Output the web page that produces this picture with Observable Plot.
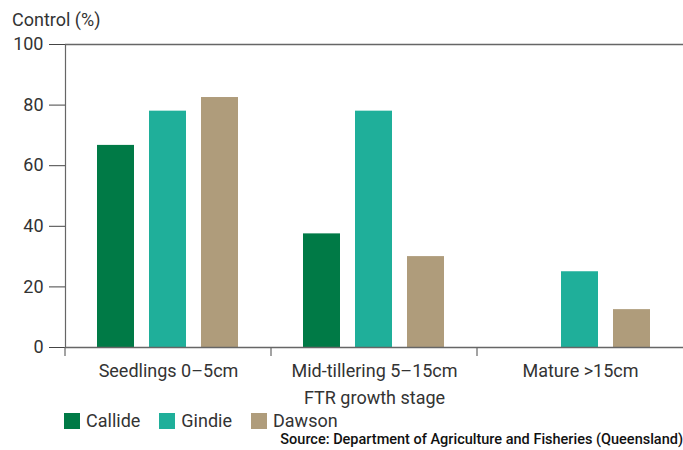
<!DOCTYPE html>
<html>
<head>
<meta charset="utf-8">
<script src="https://cdn.jsdelivr.net/npm/d3@7"></script>
<script src="https://cdn.jsdelivr.net/npm/@observablehq/plot@0.6"></script>
<style>
  html, body { margin: 0; padding: 0; background: #fff; }
  #wrap { position: relative; width: 683px; height: 450px; font-family: Roboto, "Open Sans", sans-serif; color: #333; }
  #ylabel { position: absolute; left: 12px; top: 9px; font-size: 18px; line-height: 22px; }
  #legend { position: absolute; left: 64px; top: 410px; display: flex; align-items: center; font-size: 18px; line-height: 22px; }
  #legend .item { display: flex; align-items: center; margin-right: 19px; }
  #legend .sw { width: 16px; height: 16px; margin-right: 6px; }
  #source { position: absolute; right: 0; top: 431px; font-size: 14.5px; line-height: 18px; font-weight: 500; color: #111; }
  #chart { position: absolute; left: 0; top: 0; }
</style>
</head>
<body>
<div id="wrap">
  <div id="chart"></div>
  <div id="ylabel">Control (%)</div>
  <div id="legend"></div>
  <div id="source">Source: Department of Agriculture and Fisheries (Queensland)</div>
</div>
<script>
const categories = ["Seedlings 0–5cm", "Mid-tillering 5–15cm", "Mature >15cm"];
const series = ["Callide", "Gindie", "Dawson"];
const callide = [66.7, 37.5, 0];
const gindie = [78, 78, 25];
const dawson = [82.5, 30, 12.5];
const colors = ["#007a46", "#1faf9a", "#af9c7b"];
const yTicks = [0, 20, 40, 60, 80, 100];
const xTitle = "FTR growth stage";

const seriesValues = [callide, gindie, dawson];
const data = [];
categories.forEach((c, i) => {
  series.forEach((s, j) => {
    data.push({stage: c, variety: s, value: seriesValues[j][i]});
  });
});

const chart = Plot.plot({
  width: 683,
  height: 410,
  marginTop: 44,
  marginBottom: 63,
  marginLeft: 65,
  marginRight: 0,
  style: {fontFamily: "Roboto, sans-serif", fontSize: "18px", color: "#333", background: "transparent", overflow: "visible"},
  fx: {domain: categories, padding: 0, axis: null},
  x: {domain: series, paddingInner: 0.283, paddingOuter: 0.585, axis: null},
  y: {domain: [0, 100], label: null, axis: null},
  color: {domain: series, range: colors},
  marks: [
    Plot.barY(data, {fx: "stage", x: "variety", y: "value", fill: "variety"}),
    Plot.ruleY([0, 100], {stroke: "#666", strokeWidth: 1.5}),
    Plot.frame({anchor: "left", stroke: "#666", strokeWidth: 1.2, facetAnchor: "left"}),
    Plot.axisY({ticks: yTicks, tickSize: 16, tickPadding: 6, stroke: "#444", label: null}),
    Plot.axisFx({anchor: "bottom", tickSize: 0, tickPadding: 17, label: xTitle, labelAnchor: "center", labelOffset: 56, labelArrow: "none"})
  ]
});
document.getElementById("chart").appendChild(chart);

// boundary ticks below the baseline, placed with the plot's own scales
const fx = chart.scale("fx");
const y = chart.scale("y");
const svg = d3.select(chart);
categories.forEach(c => {
  const x0 = fx.apply(c);
  svg.append("line")
    .attr("x1", x0).attr("x2", x0)
    .attr("y1", y.apply(0)).attr("y2", y.apply(0) + 9)
    .attr("stroke", "#666").attr("stroke-width", 1.2);
});

const legend = d3.select("#legend");
series.forEach((s, i) => {
  const item = legend.append("div").attr("class", "item");
  item.append("div").attr("class", "sw").style("background", colors[i]);
  item.append("span").text(s);
});
</script>
</body>
</html>
